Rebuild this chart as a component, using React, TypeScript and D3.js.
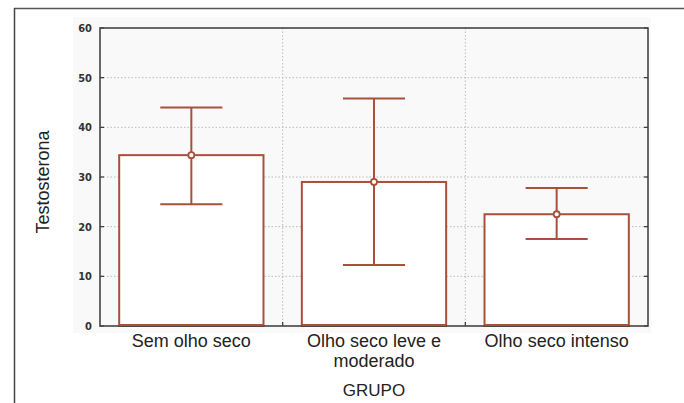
import React, { useEffect, useRef } from 'react';
import * as d3 from 'd3';

const groups = ['Sem olho seco', 'Olho seco leve e moderado', 'Olho seco intenso'];
const groupLines = [['Sem olho seco'], ['Olho seco leve e', 'moderado'], ['Olho seco intenso']];
const means = [34.4, 29.0, 22.5];
const upper = [44.0, 45.8, 27.8];
const lower = [24.5, 12.3, 17.5];
const yTicks = [0, 10, 20, 30, 40, 50, 60];

const App = () => {
    const ref = useRef<SVGSVGElement>(null);

    useEffect(() => {
        const totalWidth = 684;
        const totalHeight = 403;
        const margin = { top: 28, right: 36, bottom: 77, left: 100 };
        const width = totalWidth - margin.left - margin.right;
        const height = totalHeight - margin.top - margin.bottom;
        const barColor = '#a8503b';
        const labelFont = 'Liberation Sans, Arial, sans-serif';

        const root = d3.select(ref.current);
        root.selectAll('*').remove();
        root.attr('width', totalWidth).attr('height', totalHeight);

        // outer frame (top + left only)
        root.append('line').attr('x1', 14).attr('x2', totalWidth).attr('y1', 8.5).attr('y2', 8.5)
            .attr('stroke', '#555').attr('stroke-width', 1.5);
        root.append('line').attr('x1', 14.5).attr('x2', 14.5).attr('y1', 8).attr('y2', totalHeight)
            .attr('stroke', '#444').attr('stroke-width', 1.5);

        // light background panel
        root.append('rect').attr('x', 73).attr('y', 17).attr('width', 578).attr('height', 316)
            .attr('fill', '#f9f9f9');

        const svg = root.append('g').attr('transform', `translate(${margin.left},${margin.top})`);

        const xScale = d3.scaleBand<string>().domain(groups).range([0, width]).padding(0);
        const yScale = d3.scaleLinear().domain([0, 60]).range([height, 0]);

        // grid
        svg.append('g').selectAll('line.hg').data(yTicks.filter(t => t > 0 && t < 60)).join('line')
            .attr('x1', 0).attr('x2', width)
            .attr('y1', d => yScale(d)).attr('y2', d => yScale(d))
            .attr('stroke', '#bbb').attr('stroke-width', 1).attr('stroke-dasharray', '1.5,2');
        svg.append('g').selectAll('line.vg').data(groups.slice(1)).join('line')
            .attr('x1', d => xScale(d)!).attr('x2', d => xScale(d)!)
            .attr('y1', 0).attr('y2', height)
            .attr('stroke', '#bbb').attr('stroke-width', 1).attr('stroke-dasharray', '1.5,2');

        // ticks on left and right axes, pointing inward
        svg.append('g').selectAll('line').data(yTicks).join('line')
            .attr('x1', 0).attr('x2', 4).attr('y1', d => yScale(d)).attr('y2', d => yScale(d))
            .attr('stroke', '#333').attr('stroke-width', 1.2);
        svg.append('g').selectAll('line').data(yTicks).join('line')
            .attr('x1', width - 4).attr('x2', width).attr('y1', d => yScale(d)).attr('y2', d => yScale(d))
            .attr('stroke', '#333').attr('stroke-width', 1.2);
        svg.append('g').selectAll('line').data(groups.slice(1)).join('line')
            .attr('x1', d => xScale(d)!).attr('x2', d => xScale(d)!)
            .attr('y1', height - 4).attr('y2', height)
            .attr('stroke', '#333').attr('stroke-width', 1.2);

        // tick labels
        svg.append('g').selectAll('text').data(yTicks).join('text')
            .attr('x', -8).attr('y', d => yScale(d)).attr('dy', '0.35em')
            .attr('text-anchor', 'end')
            .style('font-family', 'DejaVu Sans Condensed, DejaVu Sans')
            .style('font-weight', 'bold')
            .style('font-size', '11px')
            .style('fill', '#333')
            .text(d => d);

        // bars
        const barW = xScale.bandwidth() * 0.79;
        const capW = xScale.bandwidth() * 0.34;
        const cx = (i: number) => xScale(groups[i])! + xScale.bandwidth() / 2;

        svg.append('g').selectAll('rect').data(means).join('rect')
            .attr('x', (d, i) => cx(i) - barW / 2)
            .attr('y', d => yScale(d))
            .attr('width', barW)
            .attr('height', d => height - yScale(d))
            .attr('fill', 'white')
            .attr('stroke', barColor)
            .attr('stroke-width', 2);

        // frame
        svg.append('rect').attr('x', 0).attr('y', 0).attr('width', width).attr('height', height)
            .attr('fill', 'none').attr('stroke', '#444').attr('stroke-width', 1.6);

        // bar bottoms drawn over frame
        svg.append('g').selectAll('line').data(means).join('line')
            .attr('x1', (d, i) => cx(i) - barW / 2).attr('x2', (d, i) => cx(i) + barW / 2)
            .attr('y1', height - 1).attr('y2', height - 1)
            .attr('stroke', barColor).attr('stroke-width', 2);

        // error bars
        const eb = svg.append('g').attr('stroke', barColor).attr('stroke-width', 2).attr('fill', 'none');
        means.forEach((m, i) => {
            eb.append('line').attr('x1', cx(i)).attr('x2', cx(i))
                .attr('y1', yScale(upper[i])).attr('y2', yScale(lower[i]));
            eb.append('line').attr('x1', cx(i) - capW / 2).attr('x2', cx(i) + capW / 2)
                .attr('y1', yScale(upper[i])).attr('y2', yScale(upper[i]));
            eb.append('line').attr('x1', cx(i) - capW / 2).attr('x2', cx(i) + capW / 2)
                .attr('y1', yScale(lower[i])).attr('y2', yScale(lower[i]));
            eb.append('circle').attr('cx', cx(i)).attr('cy', yScale(m)).attr('r', 3)
                .attr('fill', 'white').attr('stroke-width', 1.8);
        });

        // x category labels
        const xl = svg.append('g');
        groupLines.forEach((lines, i) => {
            lines.forEach((ln, j) => {
                xl.append('text')
                    .attr('x', cx(i)).attr('y', height + 21 + j * 20)
                    .attr('text-anchor', 'middle')
                    .style('font-family', labelFont)
                    .style('font-size', '18px')
                    .style('fill', '#222')
                    .text(ln);
            });
        });

        svg.append('text')
            .attr('x', width / 2).attr('y', height + 70)
            .attr('text-anchor', 'middle')
            .style('font-family', labelFont)
            .style('font-size', '17px')
            .style('fill', '#222')
            .text('GRUPO');

        root.append('text')
            .attr('transform', `translate(49,${margin.top + height / 2 + 5}) rotate(-90)`)
            .attr('text-anchor', 'middle')
            .style('font-family', labelFont)
            .style('font-size', '18px')
            .style('fill', '#222')
            .text('Testosterona');
    }, []);

    return (
        <div style={{ position: 'absolute', left: 0, top: 0 }}>
            <svg ref={ref} style={{ display: 'block' }} />
        </div>
    );
};

export default App;
